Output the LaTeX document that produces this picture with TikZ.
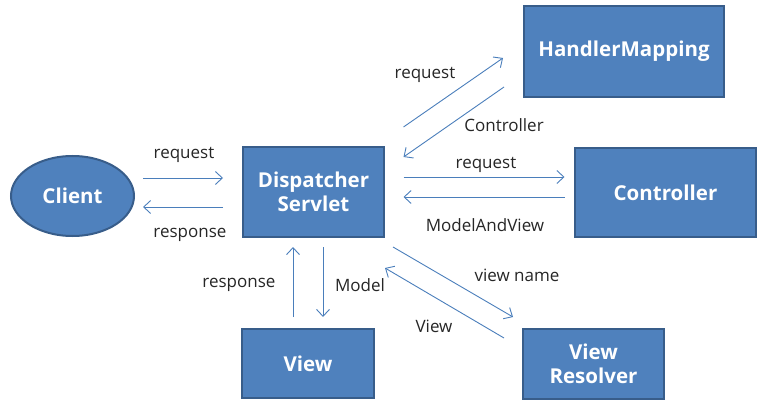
\documentclass[tikz,border=0pt]{standalone}
\usepackage{fontspec}
\setmainfont{Open Sans}
\usetikzlibrary{calc,positioning,arrows.meta,shapes.geometric}

\definecolor{boxfill}{RGB}{79,129,189}
\definecolor{boxline}{RGB}{56,93,138}
\definecolor{arrowblue}{RGB}{74,126,187}

\tikzset{
	box/.style={rectangle,draw=boxline,fill=boxfill,line width=2pt,
		text=white,font=\fontsize{20.5}{24}\selectfont\bfseries,align=center,
		inner sep=0pt},
	flow/.style={draw=arrowblue,line width=0.9pt,
		-{Straight Barb[length=7pt,width=13pt]}},
	lbl/.style={font=\fontsize{17}{20}\selectfont,text=black!85,inner sep=0pt}
}

\begin{document}
\begin{tikzpicture}[x=1pt,y=-1pt]
	\useasboundingbox (0,0) rectangle (767,403);
	% boxes
	\node [ellipse,draw=boxline,fill=boxfill,line width=2pt,text=white,
		font=\fontsize{20.5}{24}\selectfont\bfseries,
		minimum width=123pt,minimum height=80pt,inner sep=0pt] (client) at (72.5,196) {Client};
	\node [box,minimum width=141pt,minimum height=90pt] (disp) at (313.5,192) {Dispatcher\\Servlet};
	\node [box,minimum width=200pt,minimum height=91pt] (hm) at (624,51.5) {HandlerMapping};
	\node [box,minimum width=181pt,minimum height=89pt] (ctrl) at (665.5,192.5) {Controller};
	\node [box,minimum width=132pt,minimum height=69pt] (view) at (308,363.5) {View};
	\node [box,minimum width=141pt,minimum height=70pt] (vr) at (593.5,364) {View\\Resolver};
	% arrows
	\draw [flow] ($(client)+(70.5,-18)$) -- ($(disp)+(-90.5,-14)$);
	\draw [flow] ($(disp)+(-90.5,15)$) -- ($(client)+(70.5,11)$);
	\draw [flow] ($(disp)+(90,-65)$) -- ($(hm)+(-121,6.5)$);
	\draw [flow] ($(hm)+(-120,35.5)$) -- ($(disp)+(90,-35)$);
	\draw [flow] ($(disp)+(90,-15)$) -- ($(ctrl)+(-101,-15.5)$);
	\draw [flow] ($(ctrl)+(-101,4.5)$) -- ($(disp)+(90,5)$);
	\draw [flow] ($(view)+(-15,-46.5)$) -- ($(disp)+(-20.5,55)$);
	\draw [flow] ($(disp)+(9.5,55)$) -- ($(view)+(15,-46.5)$);
	\draw [flow] ($(disp)+(79.5,55)$) -- ($(vr)+(-80.5,-47)$);
	\draw [flow] ($(vr)+(-89.5,-26)$) -- ($(disp)+(71.5,76)$);
	% labels
	\node [lbl] (lreq1) at (184,155) {request};
	\node [lbl] (lresp1) at (190,235) {response};
	\node [lbl] (lreq2) at (425,75) {request};
	\node [lbl] (lctrl) at (504,125) {Controller};
	\node [lbl] (lreq3) at (486,165) {request};
	\node [lbl] (lmav) at (485,225) {ModelAndView};
	\node [lbl] (lresp2) at (239,285) {response};
	\node [lbl] (lmodel) at (360,285) {Model};
	\node [lbl] (lvname) at (517,275) {view name};
	\node [lbl] (lview) at (434,326) {View};
\end{tikzpicture}
\end{document}
